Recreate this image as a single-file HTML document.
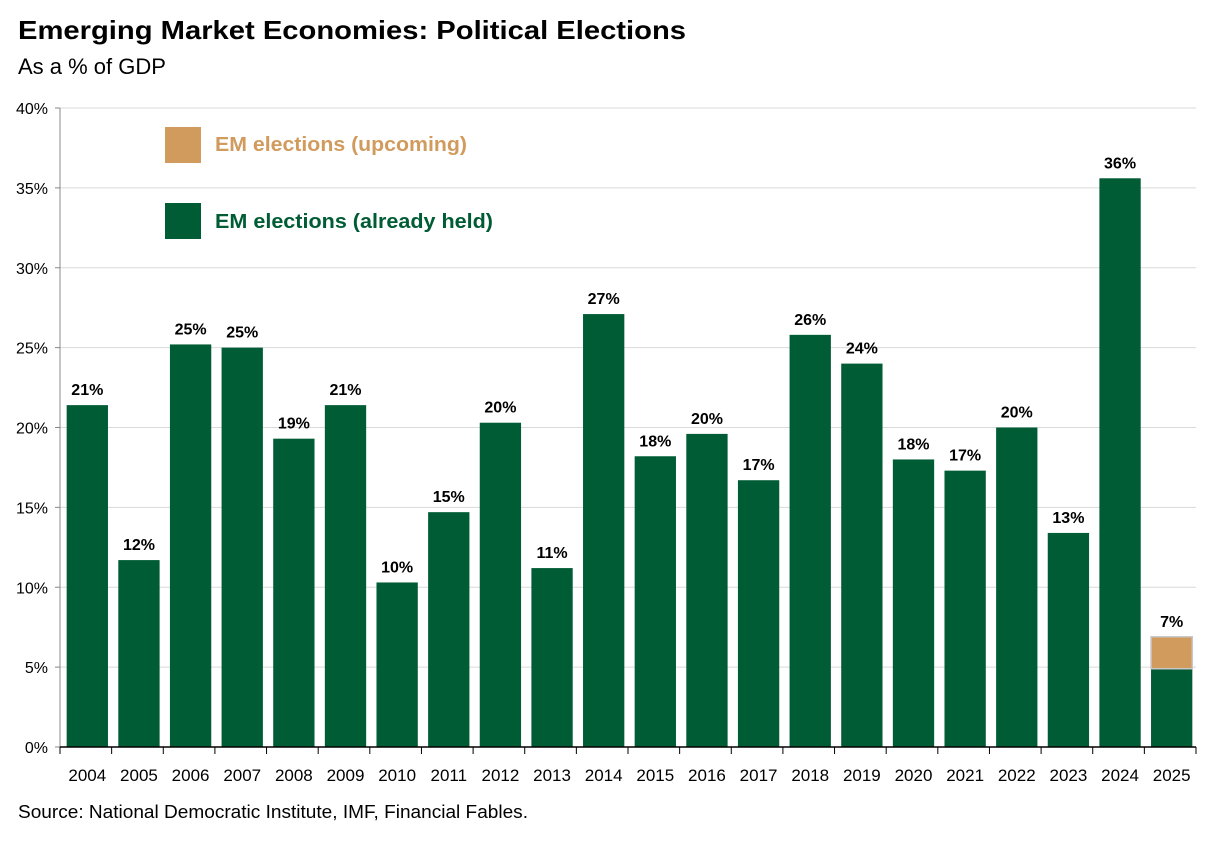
<!DOCTYPE html>
<html><head><meta charset="utf-8">
<style>
body{margin:0;background:#fff;font-family:"Liberation Sans",sans-serif;}
svg text{font-family:"Liberation Sans",sans-serif;}
</style></head>
<body>
<svg width="1224" height="842" viewBox="0 0 1224 842">
<text x="18" y="39" font-size="26" font-weight="bold" fill="#000" textLength="668" lengthAdjust="spacingAndGlyphs">Emerging Market Economies: Political Elections</text>
<text x="18" y="74" font-size="22" fill="#000">As a % of GDP</text>
<g id="grid"></g>
<g id="bars"></g>
<g id="axes"></g>
<rect x="165" y="127" width="36" height="36" fill="#D19B5E"/>
<text x="215" y="151" font-size="20" font-weight="bold" fill="#D19B5E" textLength="252" lengthAdjust="spacingAndGlyphs">EM elections (upcoming)</text>
<rect x="165" y="203" width="36" height="36" fill="#005C34"/>
<text x="215" y="228" font-size="20" font-weight="bold" fill="#005C34" textLength="278" lengthAdjust="spacingAndGlyphs">EM elections (already held)</text>
<text x="18" y="818" font-size="18" fill="#000" textLength="510" lengthAdjust="spacingAndGlyphs">Source: National Democratic Institute, IMF, Financial Fables.</text>
</svg>
<script>
const categories=["2004","2005","2006","2007","2008","2009","2010","2011","2012","2013","2014","2015","2016","2017","2018","2019","2020","2021","2022","2023","2024","2025"];
const heldValues=[21.4,11.7,25.2,25.0,19.3,21.4,10.3,14.7,20.3,11.2,27.1,18.2,19.6,16.7,25.8,24.0,18.0,17.3,20.0,13.4,35.6,4.9];
const upcomingValues=[0,0,0,0,0,0,0,0,0,0,0,0,0,0,0,0,0,0,0,0,0,2.0];
const totalLabels=["21%","12%","25%","25%","19%","21%","10%","15%","20%","11%","27%","18%","20%","17%","26%","24%","18%","17%","20%","13%","36%","7%"];
const yTicks=[0,5,10,15,20,25,30,35,40];
const NS="http://www.w3.org/2000/svg";
const x0=60,x1=1196,y0=747,y1=108,yMax=40;
const slot=(x1-x0)/categories.length;
const ys=v=>y0-(v/yMax)*(y0-y1);
const xs=i=>x0+slot*i+slot/2+1.5;
function mk(p,tag,a){const e=document.createElementNS(NS,tag);for(const k in a)e.setAttribute(k,a[k]);p.appendChild(e);return e;}
const grid=document.getElementById('grid'),bars=document.getElementById('bars'),axes=document.getElementById('axes');
yTicks.forEach(t=>{
 if(t>0){const l=mk(grid,'line',{x1:x0,x2:x1,y1:ys(t),y2:ys(t),stroke:'#d9d9d9','stroke-width':1});
 
 }
 const tk=mk(axes,'line',{x1:x0-5,x2:x0,y1:ys(t),y2:ys(t),stroke:'#888'});
 
 
 const tx=mk(axes,'text',{x:x0-12,y:ys(t)+6,'font-size':16,'text-anchor':'end',fill:'#000'});tx.textContent=t+'%';
 
 
});
const bw=slot*0.8;
categories.forEach((c,i)=>{
 const cx=xs(i);
 const h=mk(bars,'rect',{x:cx-bw/2,y:ys(heldValues[i]),width:bw,height:y0-ys(heldValues[i]),fill:'#005C34'});
 
 
 const tot=heldValues[i]+upcomingValues[i];
 if(upcomingValues[i]>0){
  const u=mk(bars,'rect',{x:cx-bw/2,y:ys(tot),width:bw,height:ys(heldValues[i])-ys(tot),fill:'#D19B5E',stroke:'#c8c8c8','stroke-width':1.5});
  
  
 }
 const lb=mk(bars,'text',{x:cx,y:ys(tot)-10,'font-size':16,'font-weight':'bold','text-anchor':'middle',fill:'#000'});lb.textContent=totalLabels[i];
 
 
 const xl=mk(axes,'text',{x:cx,y:781,'font-size':17,'text-anchor':'middle',fill:'#000'});xl.textContent=c;
 
 
});
for(let i=0;i<=categories.length;i++){
 const t=mk(axes,'line',{x1:x0+slot*i,x2:x0+slot*i,y1:y0,y2:y0+7,stroke:'#000'});
 
 
}
const ya=mk(axes,'line',{x1:x0,x2:x0,y1:y1,y2:y0,stroke:'#888'});


const xa=mk(axes,'line',{x1:x0,x2:x1,y1:y0,y2:y0,stroke:'#000','stroke-width':1.5});


</script>
</body></html>
